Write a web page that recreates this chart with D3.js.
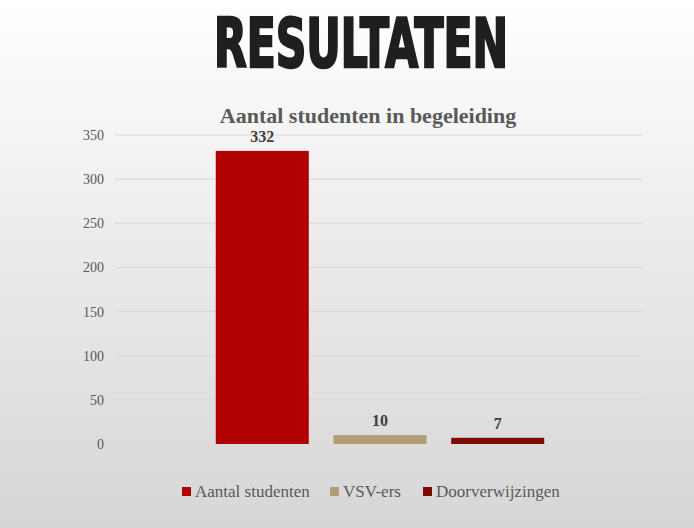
<!DOCTYPE html>
<html><head><meta charset="utf-8">
<script src="https://cdn.jsdelivr.net/npm/d3@7"></script>
<style>html,body{margin:0;padding:0;overflow:hidden;}</style>
</head><body>
<script>
const series = ["Aantal studenten", "VSV-ers", "Doorverwijzingen"];
const values = [332, 10, 7];
const colors = ["#b00000", "#b39c76", "#7b0c02"];
const yTicks = [0, 50, 100, 150, 200, 250, 300, 350];

const SERIF = "'Liberation Serif','Times New Roman','DejaVu Serif',serif";
const W = 694, H = 528;
const svg = d3.select("body").append("svg").attr("width", W).attr("height", H);
const defs = svg.append("defs");
const g = defs.append("linearGradient").attr("id","bg").attr("x1",0).attr("y1",0).attr("x2",0).attr("y2",1);
g.append("stop").attr("offset","0%").attr("stop-color","#ffffff");
g.append("stop").attr("offset","35%").attr("stop-color","#f0f0f0");
g.append("stop").attr("offset","100%").attr("stop-color","#d6d6d6");
svg.append("rect").attr("width",W).attr("height",H).attr("fill","url(#bg)");

svg.append("text").attr("x",361).attr("y",67).attr("text-anchor","middle")
  .attr("font-family","'Liberation Sans Narrow','DejaVu Sans Condensed',sans-serif")
  .attr("font-weight","bold").attr("font-size",68).attr("fill","#1f1f1f")
  .attr("stroke","#1f1f1f").attr("stroke-width",2.5).attr("stroke-linejoin","miter")
  .attr("textLength",294).attr("lengthAdjust","spacingAndGlyphs").text("RESULTATEN");

svg.append("text").attr("x",368).attr("y",123).attr("text-anchor","middle")
  .style("font-family",SERIF).attr("font-weight","bold")
  .attr("font-size",22).attr("fill","#595959").text("Aantal studenten in begeleiding");

const y = d3.scaleLinear().domain([0,350]).range([444,135]);
const x = d3.scaleBand().domain(series).range([204,556]).paddingInner(0.21).paddingOuter(0.1);

const grid = svg.append("g");
grid.selectAll("line").data(yTicks).join("line")
  .attr("x1",115).attr("x2",643).attr("y1",d=>y(d)).attr("y2",d=>y(d))
  .attr("stroke","#d9d9d9").attr("stroke-width",1);

const yAxis = svg.append("g").attr("transform","translate(104,0)")
  .call(d3.axisLeft(y).tickValues(yTicks).tickSize(0).tickPadding(0));
yAxis.select(".domain").remove();
yAxis.attr("font-family",null);
yAxis.selectAll("text").style("font-family",SERIF).attr("font-size",14).attr("fill","#595959");

svg.selectAll("rect.bar").data(values).join("rect").attr("class","bar")
  .attr("x",(d,i)=>x(series[i])).attr("width",x.bandwidth())
  .attr("y",d=>y(d)).attr("height",d=>y(0)-y(d)).attr("fill",(d,i)=>colors[i]);

svg.selectAll("text.lbl").data(values).join("text").attr("class","lbl")
  .attr("x",(d,i)=>x(series[i])+x.bandwidth()/2).attr("y",d=>y(d)-9)
  .attr("text-anchor","middle").style("font-family",SERIF)
  .attr("font-weight","bold").attr("font-size",16).attr("fill","#404040").text(d=>d);

const legX = [182, 330, 423];
const leg = svg.selectAll("g.leg").data(series).join("g").attr("class","leg")
  .attr("transform",(d,i)=>`translate(${legX[i]},497)`);
leg.append("rect").attr("x",0).attr("y",-10).attr("width",9).attr("height",9).attr("fill",(d,i)=>colors[i]);
leg.append("text").attr("x",13).attr("y",0).style("font-family",SERIF)
  .attr("font-size",17).attr("fill","#595959").text(d=>d);
</script>
</body></html>
